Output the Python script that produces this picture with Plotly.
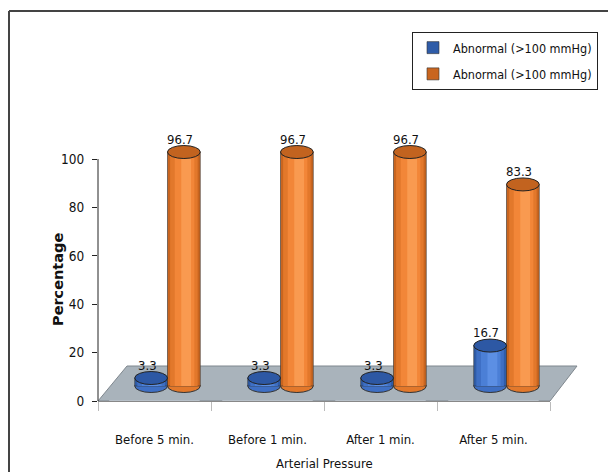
import plotly.graph_objects as go

categories = ["Before 5 min.", "Before 1 min.", "After 1 min.", "After 5 min."]
series_names = ["Abnormal (>100 mmHg)", "Abnormal (>100 mmHg)"]
blue_values = [3.3, 3.3, 3.3, 16.7]
orange_values = [96.7, 96.7, 96.7, 83.3]
value_labels_blue = ["3.3", "3.3", "3.3", "16.7"]
value_labels_orange = ["96.7", "96.7", "96.7", "83.3"]
y_ticks = [0, 20, 40, 60, 80, 100]

FONT = "DejaVu Sans Condensed, Liberation Sans Narrow, Liberation Sans, sans-serif"
FS = 13

# layout geometry (pixels)
W, H = 608, 472
L, R, T, B = 98, 58, 130, 71
plot_w = W - L - R
plot_h = H - T - B
y_max = 112.0
px_per_unit = plot_h / y_max
depth_y = 15 / px_per_unit        # 3D depth shift (units)
depth_x = 13 / (plot_w / 4)       # 3D depth shift (categories)

def px2paper_x(px):
    return (px - L) / plot_w

def px2paper_y(py):
    return (H - B - py) / plot_h

bar_w = 0.29
ell = 6.5 / px_per_unit  # ellipse half height in units

series = [
    dict(name=series_names[0], vals=blue_values, labels=value_labels_blue, offset=-bar_w,
         shades=["#2f5ca8", "#3e6fc4", "#4b7fd6", "#5c8fe4"], top="#2d58a4"),
    dict(name=series_names[1], vals=orange_values, labels=value_labels_orange, offset=0.0,
         shades=["#c9651f", "#e2782b", "#f28638", "#f99a50"], top="#c2631f"),
]

fig = go.Figure()

# category carrier on main axes
fig.add_trace(go.Bar(x=categories, y=[0] * len(categories), showlegend=False,
                     hoverinfo="skip", marker_color="rgba(0,0,0,0)"))

xs = list(range(len(categories)))
shapes = []
annotations = []

# floor
fx = [px2paper_x(98), px2paper_x(127), px2paper_x(577), px2paper_x(550)]
fy = [px2paper_y(401), px2paper_y(366), px2paper_y(366), px2paper_y(401)]
shapes.append(dict(type="path", xref="paper", yref="paper", layer="below",
                   path=f"M{fx[0]},{fy[0]} L{fx[1]},{fy[1]} L{fx[2]},{fy[2]} L{fx[3]},{fy[3]} Z",
                   fillcolor="#a9b3bb", line=dict(color="#7f878e", width=1)))

shade_fracs = [(0.0, 1.0), (0.08, 0.84), (0.22, 0.6), (0.42, 0.3)]

for s in series:
    # bottom ellipses
    for i, v in zip(xs, s["vals"]):
        x0 = i + s["offset"]
        shapes.append(dict(type="circle", xref="x2", yref="y2", layer="below",
                           x0=x0, x1=x0 + bar_w, y0=-ell, y1=ell,
                           fillcolor=s["shades"][1], line=dict(color="#333", width=1)))
    for k, (fo, fw) in enumerate(shade_fracs):
        fig.add_trace(go.Bar(
            x=xs, y=s["vals"], xaxis="x2", yaxis="y2",
            offset=s["offset"] + fo * bar_w, width=bar_w * fw,
            marker=dict(color=s["shades"][k],
                        line=dict(color="#333" if k == 0 else s["shades"][k], width=0.6 if k == 0 else 0)),
            name=s["name"], showlegend=(k == 0), legendgroup=s["name"] + str(s["offset"]),
            hoverinfo="skip", cliponaxis=False,
        ))
    for i, v, lab in zip(xs, s["vals"], s["labels"]):
        x0 = i + s["offset"]
        shapes.append(dict(type="circle", xref="x2", yref="y2", layer="above",
                           x0=x0, x1=x0 + bar_w, y0=v - ell, y1=v + ell,
                           fillcolor=s["top"], line=dict(color="#222", width=1)))
        annotations.append(dict(x=x0 + bar_w / 2, y=v + ell * 0.5, xref="x2", yref="y2",
                                text=lab, showarrow=False, yanchor="bottom", xanchor="center",
                                xshift=-4, font=dict(family=FONT, size=FS, color="#111")))

# y axis line (0..100)
shapes.append(dict(type="line", xref="paper", yref="y", x0=0, x1=0, y0=0, y1=100,
                   line=dict(color="#222", width=1)))

# outer frame
shapes.append(dict(type="line", xref="paper", yref="paper",
                   x0=px2paper_x(9), x1=px2paper_x(608), y0=px2paper_y(11), y1=px2paper_y(11),
                   line=dict(color="#444", width=2)))
shapes.append(dict(type="line", xref="paper", yref="paper",
                   x0=px2paper_x(9), x1=px2paper_x(9), y0=px2paper_y(11), y1=px2paper_y(472),
                   line=dict(color="#444", width=2)))

annotations.append(dict(text="<b>Percentage</b>", textangle=-90, showarrow=False,
                        xref="paper", yref="paper", x=px2paper_x(58), y=px2paper_y(280),
                        xanchor="center", yanchor="middle",
                        font=dict(family="DejaVu Sans, Verdana, sans-serif", size=14.5, color="#111")))
annotations.append(dict(text="Arterial Pressure", showarrow=False,
                        xref="paper", yref="paper", x=0.5, y=px2paper_y(463),
                        xanchor="center", yanchor="middle",
                        font=dict(family=FONT, size=FS, color="#111")))

fig.update_layout(
    width=W, height=H,
    margin=dict(l=L, r=R, t=T, b=B, pad=0, autoexpand=False),
    paper_bgcolor="white", plot_bgcolor="white",
    barmode="overlay",
    showlegend=True,
    legend=dict(x=px2paper_x(598), y=px2paper_y(32), xanchor="right", yanchor="top",
                bordercolor="#222", borderwidth=1, bgcolor="white",
                font=dict(family=FONT, size=12.5, color="#111"),
                itemwidth=30, tracegroupgap=7),
    xaxis=dict(type="category", categoryorder="array", categoryarray=categories,
               range=[-0.5, len(categories) - 0.5], showline=True, linecolor="#888", linewidth=1,
               ticks="outside", tickson="boundaries", ticklen=9, tickcolor="#bbb",
               showgrid=False, zeroline=False, ticklabelstandoff=26, tickangle=0, automargin=False,
               tickfont=dict(family=FONT, size=FS, color="#111"), fixedrange=True),
    yaxis=dict(range=[0, y_max], tickvals=y_ticks, ticks="outside", ticklen=5, tickcolor="#222",
               showline=False, showgrid=False, zeroline=False, automargin=False,
               ticklabelstandoff=5,
               tickfont=dict(family=FONT, size=13.5, color="#111"), fixedrange=True),
    xaxis2=dict(overlaying="x", anchor="y2", visible=False,
                range=[-0.5 - depth_x, len(categories) - 0.5 - depth_x]),
    yaxis2=dict(overlaying="y", anchor="x2", visible=False,
                range=[-depth_y, y_max - depth_y]),
    shapes=shapes,
    annotations=annotations,
)

fig.write_html("out.html")
